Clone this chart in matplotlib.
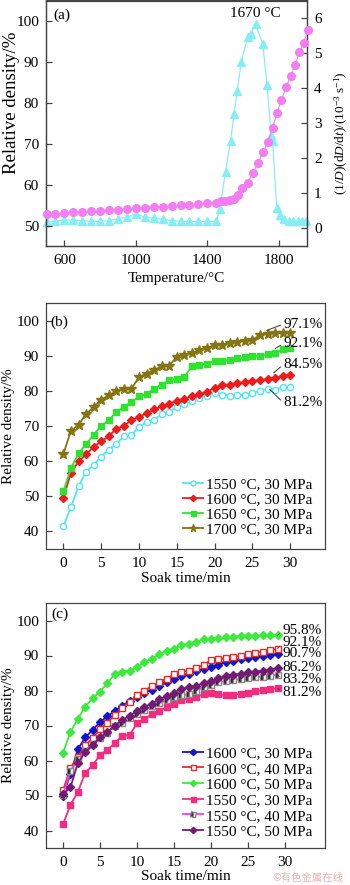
import matplotlib
matplotlib.use('agg')
import matplotlib.pyplot as plt

plt.rcParams['font.family'] = ['Liberation Serif', 'DejaVu Serif']
plt.rcParams['mathtext.fontset'] = 'custom'
plt.rcParams['mathtext.rm'] = 'Liberation Serif'
plt.rcParams['mathtext.it'] = 'Liberation Serif:italic'

# ---- panel (a): densification during heating
dens_T = [500, 550, 600, 650, 700, 750, 800, 850, 900, 950, 1000, 1050, 1100, 1150, 1200,
          1250, 1300, 1350, 1400, 1450, 1475, 1500, 1525, 1550, 1570, 1595, 1625, 1655,
          1683, 1712, 1740, 1765, 1790, 1815, 1842, 1866, 1892, 1915, 1940, 1962]
dens_val = [52.8, 52.9, 53.0, 53.2, 53.3, 53.5, 53.6, 53.8, 53.9, 54.1, 54.2, 54.4, 54.5,
            54.6, 54.8, 54.9, 55.1, 55.2, 55.4, 55.6, 55.9, 56.1, 56.2, 56.5, 57.5, 59.2,
            60.5, 62.8, 65.2, 68.0, 70.5, 73.8, 77.5, 80.7, 83.9, 86.6, 89.3, 92.4, 94.5, 97.8]
rate_T = [500, 550, 600, 650, 700, 750, 800, 850, 900, 950, 1000, 1050, 1100, 1150, 1200,
          1250, 1300, 1350, 1400, 1450, 1470, 1502, 1530, 1550, 1567, 1590, 1625, 1642,
          1670, 1710, 1735, 1757, 1765, 1789, 1808, 1832, 1855, 1880, 1905, 1930, 1955]
rate_val = [0.18, 0.20, 0.25, 0.23, 0.22, 0.20, 0.20, 0.22, 0.28, 0.32, 0.41, 0.33, 0.29,
            0.26, 0.22, 0.20, 0.20, 0.20, 0.20, 0.20, 0.55, 1.62, 2.50, 3.26, 3.93, 4.74,
            5.45, 5.55, 5.82, 5.27, 4.08, 2.66, 2.50, 0.57, 0.39, 0.27, 0.20, 0.20, 0.20,
            0.20, 0.20]

# ---- panel (b): soak time, 30 MPa
time_b = list(range(31))
labels_b = ['1550 °C, 30 MPa', '1600 °C, 30 MPa', '1650 °C, 30 MPa', '1700 °C, 30 MPa']
d1550_b = [41.5, 47.0, 52.8, 57.0, 59.0, 61.3, 63.3, 64.9, 67.1, 67.4, 69.8, 71.1, 71.7,
           73.5, 74.0, 75.4, 76.3, 77.0, 77.9, 78.6, 79.3, 78.9, 78.6, 78.8, 78.8, 79.3,
           80.1, 80.5, 80.3, 81.0, 81.2]
d1600_b = [49.6, 56.7, 59.9, 61.9, 64.1, 65.6, 67.1, 69.2, 70.1, 71.6, 72.6, 73.6, 74.7,
           75.6, 76.4, 77.1, 77.8, 78.4, 79.0, 79.7, 80.9, 81.7, 81.8, 82.2, 82.5, 82.8,
           83.0, 83.3, 83.8, 84.2, 84.5]
d1650_b = [51.4, 58.0, 62.2, 64.8, 67.5, 70.0, 71.6, 74.0, 75.4, 76.8, 78.4, 79.2, 80.6,
           81.8, 83.0, 83.5, 83.9, 87.1, 87.4, 87.7, 88.6, 88.6, 88.8, 89.3, 89.6, 89.8,
           90.0, 90.4, 90.7, 91.8, 92.1]
d1700_b = [62.0, 68.7, 70.3, 73.4, 75.4, 77.5, 78.7, 79.9, 80.6, 80.6, 83.9, 84.9, 85.9,
           87.0, 87.2, 89.7, 90.3, 90.7, 91.6, 92.1, 93.1, 93.1, 93.7, 94.0, 94.3, 94.5,
           95.9, 96.2, 96.4, 96.4, 96.4]
final_b = ['97.1%', '92.1%', '84.5%', '81.2%']

# ---- panel (c): soak time, different pressures
time_c = list(range(30))
labels_c = ['1600 °C, 30 MPa', '1600 °C, 40 MPa', '1600 °C, 50 MPa',
            '1550 °C, 30 MPa', '1550 °C, 40 MPa', '1550 °C, 50 MPa']
d1600_30 = [50.0, 56.2, 63.2, 66.6, 68.7, 71.0, 72.6, 74.2, 75.7, 76.9, 78.2, 79.4, 80.2,
            81.4, 82.3, 83.3, 84.2, 84.8, 85.5, 86.1, 86.7, 87.4, 88.1, 88.5, 88.9, 89.3,
            89.6, 89.9, 90.1, 90.4]
d1600_40 = [51.5, 57.8, 61.0, 64.3, 66.4, 69.0, 70.8, 73.0, 75.0, 76.8, 78.6, 80.0, 81.2,
            82.4, 83.4, 84.6, 85.3, 85.7, 86.3, 87.4, 88.6, 89.0, 89.2, 89.6, 89.9, 90.3,
            90.7, 91.1, 91.5, 92.0]
d1600_50 = [62.2, 68.1, 71.9, 75.4, 77.8, 79.7, 82.1, 84.8, 85.4, 85.7, 86.6, 88.2, 89.1,
            90.3, 91.3, 92.0, 92.9, 93.4, 94.0, 94.6, 94.8, 95.0, 95.2, 95.4, 95.6, 95.7,
            95.7, 95.8, 95.8, 95.8]
d1550_30 = [41.8, 47.3, 51.0, 56.5, 58.6, 61.6, 63.1, 64.9, 67.1, 67.3, 70.6, 71.8, 73.3,
            74.2, 75.2, 76.1, 77.3, 77.7, 78.2, 78.9, 79.2, 79.0, 78.6, 78.8, 79.1, 79.4,
            79.8, 80.1, 80.4, 80.6]
d1550_40 = [50.1, 57.0, 60.3, 62.8, 64.8, 66.5, 68.0, 69.8, 70.7, 72.1, 73.2, 74.3, 75.5,
            76.3, 77.3, 78.2, 78.6, 78.9, 80.0, 80.9, 81.6, 82.3, 82.7, 83.0, 83.3, 83.6,
            83.8, 84.0, 84.2, 84.5]
d1550_50 = [50.5, 52.3, 59.3, 62.4, 64.3, 66.6, 68.1, 70.0, 71.6, 72.8, 74.2, 75.4, 76.2,
            77.6, 78.3, 79.4, 80.4, 81.0, 81.3, 82.2, 82.7, 83.5, 84.2, 84.5, 84.8, 85.2,
            85.4, 85.7, 86.0, 86.3]
final_c = ['95.8%', '92.1%', '90.7%', '86.2%', '83.2%', '81.2%']

FS = 11
SPINE = '#444444'


def style_axes(ax, right=False):
    for s in ax.spines.values():
        s.set_color(SPINE)
        s.set_linewidth(0.9)
    ax.tick_params(direction='in', length=4, width=0.9, color=SPINE,
                   labelsize=FS, pad=5)
    if not right:
        ax.tick_params(axis='x', pad=6)


W, H = 350, 885
fig = plt.figure(figsize=(W / 100, H / 100), dpi=100)

# ---------------- (a)
ax = fig.add_axes([46 / W, 1 - 246 / H, 261 / W, 245.5 / H])
ax2 = ax.twinx()
ax.plot(dens_T, dens_val, '-o', color='#f27ef2', ms=5.5, lw=0.8, clip_on=False, zorder=3)
ax2.plot(rate_T, rate_val, '-^', color='#86eef2', ms=5.5, lw=0.9, clip_on=False)
ax.set_zorder(ax2.get_zorder() + 1)
ax.patch.set_visible(False)
ax.set_xlim(497, 1958)
ax.set_ylim(45, 105)
ax2.set_ylim(-0.5, 6.5)
ax.set_xticks([600, 1000, 1400, 1800])
ax.set_yticks([50, 60, 70, 80, 90, 100])
ax2.set_yticks([0, 1, 2, 3, 4, 5, 6])
style_axes(ax)
style_axes(ax2, right=True)
ax.set_xlabel('Temperature/°C', fontsize=FS)
ax.xaxis.set_label_coords(0.5, -0.105)
ax.set_ylabel('Relative density/%', fontsize=13.5)
ax.yaxis.set_label_coords(-0.1, 0.585)
ax2.set_ylabel(r'$(1/D)(\mathrm{d}D/\mathrm{d}t)/(10^{-3}\ \mathrm{s}^{-1})$', fontsize=9.5)
ax2.yaxis.set_label_coords(1.098, 0.46)
ax.text(0.027, 0.94, '(a)', transform=ax.transAxes, fontsize=FS, va='center')
ax2.text(1670, 6.13, '1670 °C', fontsize=FS, ha='center', va='center')

# ---------------- (b)
axb = fig.add_axes([46 / W, 1 - 549 / H, 279 / W, 246 / H])
styles_b = [
    dict(color='#52e6f2', marker='o', mfc='white', mec='#52e6f2', ms=4.5),
    dict(color='#ec1c1c', marker='D', ms=4),
    dict(color='#2fe22f', marker='s', ms=4.5),
    dict(color='#857412', marker='*', ms=7),
]
for y, lab, st in zip([d1550_b, d1600_b, d1650_b, d1700_b], labels_b, styles_b):
    axb.plot(time_b, y, lw=1.3, label=lab, **st)
axb.set_xlim(-2.3, 34.6)
axb.set_ylim(35, 105)
axb.set_xticks([0, 5, 10, 15, 20, 25, 30])
axb.set_yticks([40, 50, 60, 70, 80, 90, 100])
style_axes(axb)
axb.set_xlabel('Soak time/min', fontsize=FS)
axb.xaxis.set_label_coords(0.5, -0.094)
axb.set_ylabel('Relative density/%', fontsize=FS)
axb.yaxis.set_label_coords(-0.11, 0.5)
axb.text(0.015, 0.92, '(b)', transform=axb.transAxes, fontsize=FS, va='center')
axb.legend(loc='upper left', bbox_to_anchor=(0.49, 0.29), frameon=False, fontsize=FS,
           handlelength=1.3, handletextpad=0.25, labelspacing=0.08, borderpad=0,
           borderaxespad=0, markerscale=0.8)
lead_b = [(26.9, 97.2, 99.0), (28.0, 92.0, 93.5), (27.8, 85.1, 87.5), (27.3, 80.4, 76.6)]
for (tx, ty, yt), txt in zip(lead_b, final_b):
    axb.annotate(txt, xy=(tx, ty), xytext=(29.1, yt), fontsize=FS, va='center', ha='left',
                 arrowprops=dict(arrowstyle='-', lw=0.7, color='#333333',
                                 shrinkA=0, shrinkB=0, relpos=(0, 0.5)))

# ---------------- (c)
axc = fig.add_axes([46 / W, 1 - 848 / H, 279 / W, 245 / H])
styles_c = [
    dict(color='#1414c8', marker='D', ms=4),
    dict(color='#e52a2a', marker='s', mfc='white', mec='#e52a2a', ms=4.5),
    dict(color='#3ee83e', marker='D', ms=4),
    dict(color='#f22c7e', marker='s', ms=4.5),
    dict(color='#f23cf2', marker='s', mfc='#111111', mec='#888888', ms=4.5,
         fillstyle='left', markerfacecoloralt='white'),
    dict(color='#741a74', marker='D', ms=4),
]
series_c = [d1600_30, d1600_40, d1600_50, d1550_30, d1550_40, d1550_50]
for y, lab, st in zip(series_c, labels_c, styles_c):
    axc.plot(time_c, y, lw=1.3, label=lab, **st)
axc.set_xlim(-2.3, 35.4)
axc.set_ylim(35, 105)
axc.set_xticks([0, 5, 10, 15, 20, 25, 30])
axc.set_yticks([40, 50, 60, 70, 80, 90, 100])
style_axes(axc)
axc.set_xlabel('Soak time/min', fontsize=FS)
axc.xaxis.set_label_coords(0.5, -0.09)
axc.set_ylabel('Relative density/%', fontsize=FS)
axc.yaxis.set_label_coords(-0.11, 0.5)
axc.text(0.02, 0.955, '(c)', transform=axc.transAxes, fontsize=FS, va='center')
handles, labs = axc.get_legend_handles_labels()
axc.legend(handles, labs, loc='upper left', bbox_to_anchor=(0.49, 0.415), frameon=False,
           fontsize=FS, handlelength=1.3, handletextpad=0.25, labelspacing=0.13,
           borderpad=0, borderaxespad=0, markerscale=0.8)
text_y_c = [97.0, 93.6, 90.5, 86.7, 83.2, 79.4]
ends_c = [d1600_50, d1600_40, d1600_30, d1550_50, d1550_40, d1550_30]
for ys, yt, txt in zip(ends_c, text_y_c, final_c):
    axc.annotate(txt, xy=(time_c[-1], ys[-1]), xytext=(29.6, yt), fontsize=FS,
                 va='center', ha='left',
                 arrowprops=dict(arrowstyle='-', lw=0.6, color='#333333',
                                 shrinkA=0, shrinkB=0, relpos=(0, 0.5)))

fig.text(343 / W, 1 - 878 / H, '©有色金属在线', fontsize=7.5, color='#f0b0b0',
         ha='right', va='center', family=['Noto Sans CJK SC', 'DejaVu Sans'])

fig.savefig('out.png', dpi=100)
